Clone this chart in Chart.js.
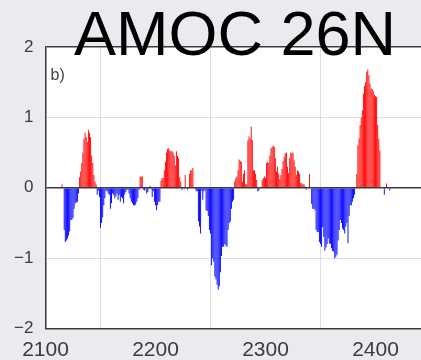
<!DOCTYPE html>
<html>
<head>
<meta charset="utf-8">
<script src="https://cdn.jsdelivr.net/npm/chart.js@4.4.0/dist/chart.umd.min.js"></script>
<style>
  html, body { margin: 0; padding: 0; background: #ebebef; overflow: hidden; }
  #wrap { width: 450px; height: 360px; }
</style>
</head>
<body>
<div id="wrap"><canvas id="amocChart" width="450" height="360"></canvas></div>
<script>
// yearly AMOC anomaly at 26N (first bar year = 2110)
const firstYear = 2110;
const amocValues = [
  0, 0, 0, 0, 0, 0.05, 0, -0.6, -0.77, -0.75,                    // 2110
  -0.72, -0.68, -0.62, -0.46, -0.46, -0.43, -0.3, -0.22, -0.21, -0.2, // 2120
  -0.08, 0.15, 0.23, 0.35, 0.5, 0.7, 0.78, 0.72, 0.65, 0.82,     // 2130
  0.78, 0.72, 0.46, 0.35, 0.18, 0.09, 0.05, -0.1, -0.04, -0.13,  // 2140
  -0.57, -0.5, -0.42, -0.25, -0.15, -0.04, -0.05, -0.08, -0.1, -0.3, // 2150
  -0.22, -0.08, -0.1, -0.15, -0.12, -0.08, -0.17, -0.1, -0.2, -0.13, // 2160
  -0.15, -0.22, -0.1, -0.06, -0.03, -0.03, -0.08, -0.15, -0.2, -0.22, // 2170
  -0.25, -0.25, -0.24, -0.2, -0.15, -0.03, 0.16, 0.16, 0.16, -0.03, // 2180
  -0.04, -0.02, -0.08, -0.06, -0.02, 0.03, -0.02, -0.13, -0.05, -0.2, // 2190
  -0.25, -0.32, -0.25, -0.2, -0.2, 0.1, 0.14, 0.14, 0.25, 0.37,  // 2200
  0.5, 0.55, 0.56, 0.53, 0.52, 0.52, 0.5, 0.45, 0.32, 0.52,      // 2210
  0.45, 0.42, 0.15, 0.09, -0.03, 0, -0.02, 0.18, 0, -0.03,       // 2220
  0, 0.2, 0.25, 0.25, 0.28, 0, -0.02, -0.05, -0.05, -0.48,       // 2230
  -0.55, -0.65, -0.04, -0.17, -0.05, -0.04, -0.32, -0.33, -0.4, -0.6, // 2240
  -0.65, -1.1, -1.0, -1.05, -1.26, -1.3, -1.38, -1.45, -1.4, -1.2, // 2250
  -0.97, -0.84, -0.84, -0.8, -0.82, -0.84, -0.6, -0.5, -0.48, -0.3, // 2260
  -0.2, -0.17, 0.09, 0.13, 0.16, 0.25, 0.4, 0.38, 0.37, 0.09,    // 2270
  0.2, 0.25, 0.05, 0.05, 0.67, 0.73, 0.7, 0.87, 0.68, 0.25,      // 2280
  0.25, 0.2, 0.11, -0.05, -0.04, 0, 0, 0.11, 0.14, 0.16,         // 2290
  0.14, 0.35, 0.37, 0.35, 0.46, 0.56, 0.58, 0.6, 0.58, 0.42,     // 2300
  0.23, 0.3, 0.2, 0.12, 0.18, 0.27, 0.38, 0.44, 0.49, 0.5,       // 2310
  0.3, 0.21, 0.42, 0.5, 0.49, 0.5, 0.39, 0.3, 0.18, 0.25,        // 2320
  0.23, 0.2, 0.07, 0.06, 0.05, 0.05, 0.02, -0.03, 0, 0,          // 2330
  0.2, 0, -0.23, -0.3, -0.3, -0.32, -0.6, -0.63, -0.63, -0.77,   // 2340
  -0.8, -0.84, -0.56, -0.7, -0.89, -0.85, -0.8, -0.72, -0.79, -0.8, // 2350
  -0.86, -0.9, -0.91, -1.0, -0.98, -0.95, -0.75, -0.6, -0.46, -0.5, // 2360
  -0.58, -0.6, -0.65, -0.55, -0.5, -0.79, -0.4, -0.25, -0.25, -0.2, // 2370
  -0.15, -0.1, 0, 0.2, 0.6, 0.7, 0.89, 1.0, 1.1, 1.34,           // 2380
  1.45, 1.5, 1.65, 1.68, 1.6, 1.48, 1.41, 1.4, 1.37, 1.32,       // 2390
  1.3, 1.29, 0.89, 0.7, 0.53, 0, 0, 0, -0.1, 0,                  // 2400
  0.06, 0, 0, -0.04                                               // 2410
];
const years = amocValues.map((v, i) => firstYear + i);

const xTicks = [2100, 2200, 2300, 2400];
const yTicks = [-2, -1, 0, 1, 2];
const chartTitle = 'AMOC 26N';
const panelLabel = 'b)';

const plotDecor = {
  id: 'plotDecor',
  beforeDraw(chart) {
    const a = chart.chartArea, ctx = chart.ctx;
    ctx.save();
    ctx.fillStyle = '#ffffff';
    ctx.fillRect(a.left, a.top, a.right - a.left, a.bottom - a.top);
    ctx.restore();
  },
  afterDraw(chart) {
    const ctx = chart.ctx, a = chart.chartArea;
    ctx.save();
    ctx.fillStyle = '#444';
    ctx.font = '16px "Liberation Sans", Arial, sans-serif';
    ctx.textAlign = 'left';
    ctx.textBaseline = 'alphabetic';
    ctx.fillText(panelLabel, a.left + 5, a.top + 33);
    ctx.fillStyle = '#000';
    ctx.font = '63px "Liberation Sans", Arial, sans-serif';
    ctx.textAlign = 'center';
    ctx.fillText(chartTitle, 235, 55);
    ctx.restore();
  }
};

const config = {
  type: 'bar',
  data: {
    datasets: [{
      data: years.map((y, i) => ({ x: y, y: amocValues[i] })),
      backgroundColor: ctx => (ctx.raw && ctx.raw.y < 0) ? '#0000ff' : '#ff0000',
      barPercentage: 0.85,
      categoryPercentage: 1,
      borderWidth: 0
    }]
  },
  options: {
    responsive: false,
    animation: false,
    layout: { padding: { left: 0, right: 19.5, top: 47, bottom: 0 } },
    plugins: {
      legend: { display: false },
      tooltip: { enabled: false },
      title: { display: false }
    },
    scales: {
      x: {
        type: 'linear',
        min: 2100,
        max: 2450,
        offset: false,
        afterFit(scale) { scale.height = 31.5; },
        afterBuildTicks(scale) { scale.ticks = xTicks.map(v => ({ value: v })); },
        grid: {
          drawTicks: false,
          color: '#dedede',
          lineWidth: 1
        },
        border: { color: '#3a3a3a', width: 1.5 },
        ticks: {
          padding: 9,
          color: '#3c3c3c',
          font: { family: '"Liberation Sans", Arial, sans-serif', size: 21 },
          maxRotation: 0,
          callback: v => String(v)
        }
      },
      y: {
        min: -2,
        max: 2,
        afterFit(scale) { scale.width = 45.5; },
        afterBuildTicks(scale) { scale.ticks = yTicks.map(v => ({ value: v })); },
        grid: {
          drawTicks: false,
          color: ctx => (ctx.tick && (ctx.tick.value === 0 || ctx.tick.value === 2)) ? '#3a3a3a' : '#dedede',
          lineWidth: ctx => (ctx.tick && (ctx.tick.value === 0 || ctx.tick.value === 2)) ? 1.5 : 1
        },
        border: { color: '#3a3a3a', width: 1.5 },
        ticks: {
          padding: 12,
          color: '#3c3c3c',
          font: { family: '"Liberation Sans", Arial, sans-serif', size: 17 },
          callback: v => v < 0 ? '\u2212' + Math.abs(v) : String(v)
        }
      }
    }
  },
  plugins: [plotDecor]
};

window.onload = function() {
  const ctx = document.getElementById('amocChart').getContext('2d');
  new Chart(ctx, config);
};
</script>
</body>
</html>
